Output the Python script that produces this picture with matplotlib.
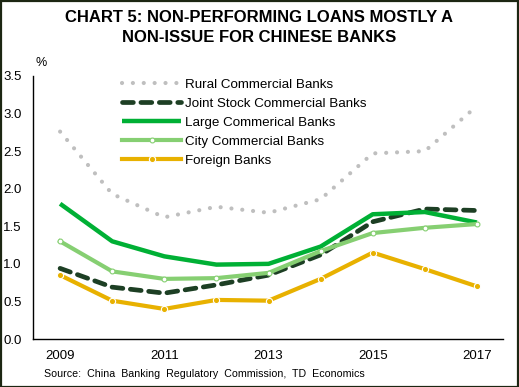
import matplotlib
matplotlib.use("Agg")
import matplotlib.pyplot as plt
from matplotlib.patches import Rectangle

plt.rcParams['font.family'] = ['Liberation Sans', 'DejaVu Sans']

years = [2009, 2010, 2011, 2012, 2013, 2014, 2015, 2016, 2017]
tick_years = ["2009", "2011", "2013", "2015", "2017"]
rural = [2.76, 1.93, 1.62, 1.76, 1.68, 1.86, 2.47, 2.50, 3.10]
joint = [0.94, 0.69, 0.61, 0.72, 0.85, 1.12, 1.56, 1.73, 1.71]
large = [1.80, 1.30, 1.10, 0.99, 1.00, 1.23, 1.66, 1.69, 1.55]
city = [1.30, 0.90, 0.80, 0.81, 0.88, 1.17, 1.41, 1.48, 1.53]
foreign = [0.85, 0.51, 0.40, 0.52, 0.51, 0.80, 1.15, 0.93, 0.70]

W, H = 519, 387
fig = plt.figure(figsize=(W/100, H/100), dpi=100)
ax = fig.add_axes([33/W, 1-339/H, (503-33)/W, (339-76)/H])

ax.plot(years, rural, color='#bfbfbf', lw=3, linestyle=(0, (0.01, 2.6)),
        dash_capstyle='round', label='Rural Commercial Banks')
ax.plot(years, joint, color='#1d3f24', lw=3.4, linestyle=(0, (2.3, 1.6)),
        dash_capstyle='round', label='Joint Stock Commercial Banks')
ax.plot(years, large, color='#00b035', lw=3.2, solid_capstyle='butt',
        label='Large Commerical Banks')
ax.plot(years, city, color='#86cf72', lw=3, marker='o', markersize=3.5,
        markerfacecolor='white', markeredgecolor='#86cf72', markeredgewidth=0.8,
        label='City Commercial Banks')
ax.plot(years, foreign, color='#e8b100', lw=3, marker='o', markersize=4.5,
        markerfacecolor='#e8b100', markeredgecolor='white', markeredgewidth=0.8,
        label='Foreign Banks')

ax.set_xlim(years[0]-0.52, years[-1]+0.5)
ax.set_ylim(0, 3.5)
yt = [0, 0.5, 1.0, 1.5, 2.0, 2.5, 3.0, 3.5]
ax.set_yticks(yt)
ax.set_yticklabels([f"{v:.1f}" for v in yt])
ax.set_xticks([int(y) for y in tick_years])
ax.set_xticklabels(tick_years)
for s in ['top', 'right']:
    ax.spines[s].set_visible(False)
for s in ['left', 'bottom']:
    ax.spines[s].set_color('#000000')
    ax.spines[s].set_linewidth(1)
ax.tick_params(axis='both', length=0, labelsize=9.5, colors='#000000')
ax.tick_params(axis='x', pad=8)
ax.yaxis.set_tick_params(pad=0)
for lab in ax.get_yticklabels():
    lab.set_horizontalalignment('left')
    lab.set_transform(ax.get_yaxis_transform())
    lab.set_x(-30/(503-33))

leg = ax.legend(loc='upper left', bbox_to_anchor=((117-33)/(503-33), 1+3/263),
                frameon=False, fontsize=9.6, handlelength=4.4, handletextpad=0.3,
                labelspacing=0.5, borderaxespad=0, numpoints=1)

fig.text(259/W, 1-17/H, "CHART 5: NON-PERFORMING LOANS MOSTLY A", ha='center',
         va='center', fontsize=12, fontweight='bold')
fig.text(259/W, 1-38/H, "NON-ISSUE FOR CHINESE BANKS", ha='center',
         va='center', fontsize=12, fontweight='bold')
fig.text(41/W, 1-63/H, "%", ha='center', va='center', fontsize=9)
fig.text(44/W, 1-374/H, "Source:  China  Banking  Regulatory  Commission,  TD  Economics",
         ha='left', va='center', fontsize=7.7)

fig.patches.append(Rectangle((0.5/W, 0.5/H), 1-1.5/W, 1-1.5/H, transform=fig.transFigure,
                             fill=False, edgecolor='#1c2612', linewidth=1.6))

fig.savefig("out.png", dpi=100)
